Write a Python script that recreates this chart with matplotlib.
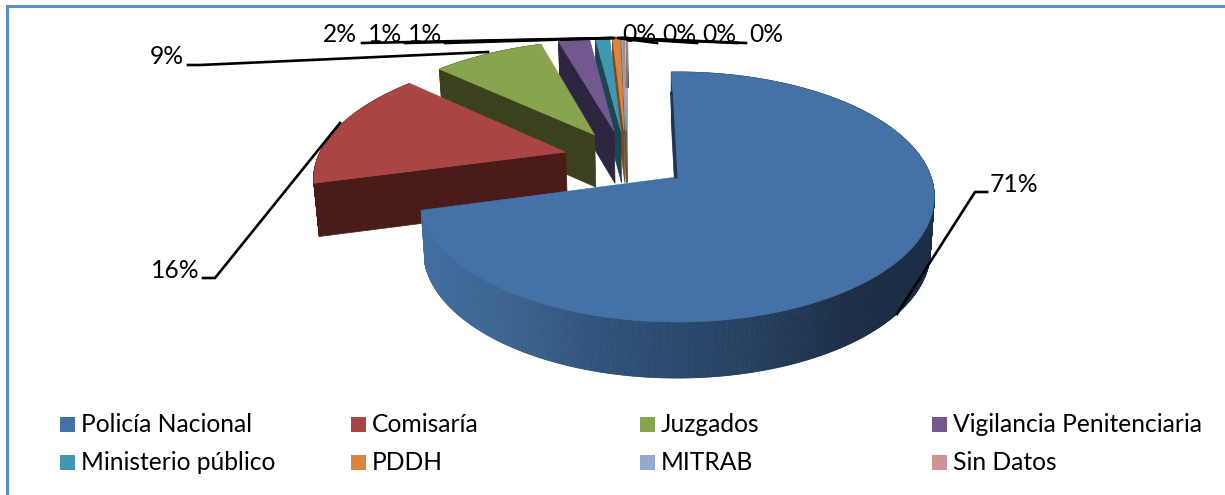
import numpy as np
import matplotlib
matplotlib.use("Agg")
import matplotlib.pyplot as plt
from matplotlib.patches import Polygon, Rectangle
from matplotlib.collections import PolyCollection

# Datos
categorias = ["Policía Nacional", "Comisaría", "Juzgados", "Vigilancia Penitenciaria",
              "Ministerio público", "PDDH", "MITRAB", "Sin Datos"]
valores = [71.2, 15.8, 8.5, 2.4, 1.1, 0.6, 0.1, 0.1, 0.1, 0.1]
etiquetas = ["71%", "16%", "9%", "2%", "1%", "1%", "0%", "0%", "0%", "0%"]
colores = ["#4471a6", "#a94543", "#88a54e", "#71588f", "#4098b0",
           "#db843d", "#93a9cf", "#d19392", "#b9cd96", "#a99bbd"]
oscuros = ["#1c3553", "#4a1c19", "#3a411f", "#2e2540", "#1b4650",
           "#7a4a20", "#4f5a70", "#6f4f4f", "#606a50", "#5a5268"]

# Geometria de la vista (pixeles)
x0, y0, k = 677.0, 177.0, 254.0
A, C = 93.5, -0.16
e = 0.255
giro = -1.5


def proyectar(u, v):
    d = 1 + C * v
    return x0 + k * u / d, (A * v + y0) / d


def bajar(x, y):
    # base del pastel
    return x0 + (x - x0) * 0.985, y + 51 + 5 * (y - 72) / 250


def pared_color(x):
    xs = [424, 500, 600, 750, 850, 935]
    r = np.interp(x, xs, [0x44, 0x3d, 0x30, 0x26, 0x1b, 0x1b])
    g = np.interp(x, xs, [0x6e, 0x65, 0x52, 0x40, 0x2e, 0x2e])
    b = np.interp(x, xs, [0xa0, 0x92, 0x7b, 0x60, 0x46, 0x46])
    return (r / 255, g / 255, b / 255)


fig = plt.figure(figsize=(12.25, 4.95), dpi=100)
ax = fig.add_axes([0, 0, 1, 1])
ax.set_xlim(0, 1225)
ax.set_ylim(495, 0)
ax.axis("off")
plt.rcParams["font.family"] = ["Lato", "DejaVu Sans"]

# Marco
ax.plot([6.5, 6.5, 1225], [495, 6, 6], color="#5b8bc9", lw=2.2, solid_joinstyle="miter")

total = sum(valores)
angulos = giro + np.cumsum([0] + valores) / total * 360
n = len(valores)

for i in range(n - 1, -1, -1):
    a1, a2 = angulos[i], angulos[i + 1]
    medio = np.radians((a1 + a2) / 2)
    cx = -e * np.sin(np.radians(giro + valores[0] / total * 180)) + e * np.sin(medio)
    cy = e * np.cos(np.radians(giro + valores[0] / total * 180)) - e * np.cos(medio)
    t = np.radians(np.linspace(a1, a2, max(int(a2 - a1) * 3, 4)))
    ux = cx + np.sin(t)
    vy = cy - np.cos(t)
    xa, ya = proyectar(ux, vy)
    xc, yc = proyectar(cx, cy)

    # pared exterior
    xb, yb = bajar(xa, ya)
    quads = []
    cols = []
    for j in range(len(t) - 1):
        quads.append([(xa[j], ya[j]), (xa[j + 1], ya[j + 1]), (xb[j + 1], yb[j + 1]), (xb[j], yb[j])])
        cols.append(pared_color(xa[j]) if i == 0 else oscuros[i])
    ax.add_collection(PolyCollection(quads, facecolors=cols, edgecolors=cols, linewidths=0.6))

    # cara radial
    xcb, ycb = bajar(xc, yc)
    ax.add_patch(Polygon([(xc, yc), (xa[0], ya[0]), (xb[0], yb[0]), (xcb, ycb)],
                         closed=True, fc=oscuros[i], ec=oscuros[i], lw=0.5))
    if i == 0:
        ax.plot([xa[0] - 1 + 0.2 * (xc - xa[0]), xc - 1], [ya[0] + 0.2 * (yc - ya[0]), yc],
                color=oscuros[0], lw=2)

    # cara superior
    ax.add_patch(Polygon(np.column_stack([np.r_[xc, xa], np.r_[yc, ya]]),
                         closed=True, fc=colores[i], ec=colores[i], lw=0.4))

# Lineas guia
guias = [
    ([897, 975, 987], [314, 192, 192]),
    ([340, 215, 203], [123, 278, 278]),
    ([488, 200, 188], [52, 65, 65]),
    ([610, 362], [38, 43]),
    ([612, 405], [38, 43]),
    ([614, 445], [38, 43]),
    ([618, 657], [38, 43]),
    ([620, 697], [38, 43]),
    ([622, 737], [38, 43]),
    ([624, 746], [38, 43]),
]
for gx, gy in guias:
    ax.plot(gx, gy, color="black", lw=1.9, solid_joinstyle="miter")

pos_etiquetas = [(1014, 185), (175, 271), (167, 56), (340, 35), (385, 35), (425, 35),
                 (639, 35), (679, 35), (719, 35), (766, 35)]
for (tx, ty), txt in zip(pos_etiquetas, etiquetas):
    ax.text(tx, ty, txt, ha="center", va="center", fontsize=17.7, color="black")

# Leyenda
col_x = [60, 351, 640, 932]
fila_y = [424.5, 462.5]
for i, nombre in enumerate(categorias):
    lx = col_x[i % 4]
    ly = fila_y[i // 4]
    ax.add_patch(Rectangle((lx, ly - 7.5), 15, 15, fc=colores[i], ec="none"))
    ax.text(lx + 21, ly, nombre, ha="left", va="center", fontsize=17.7, color="black")

fig.savefig("out.png", dpi=100)
